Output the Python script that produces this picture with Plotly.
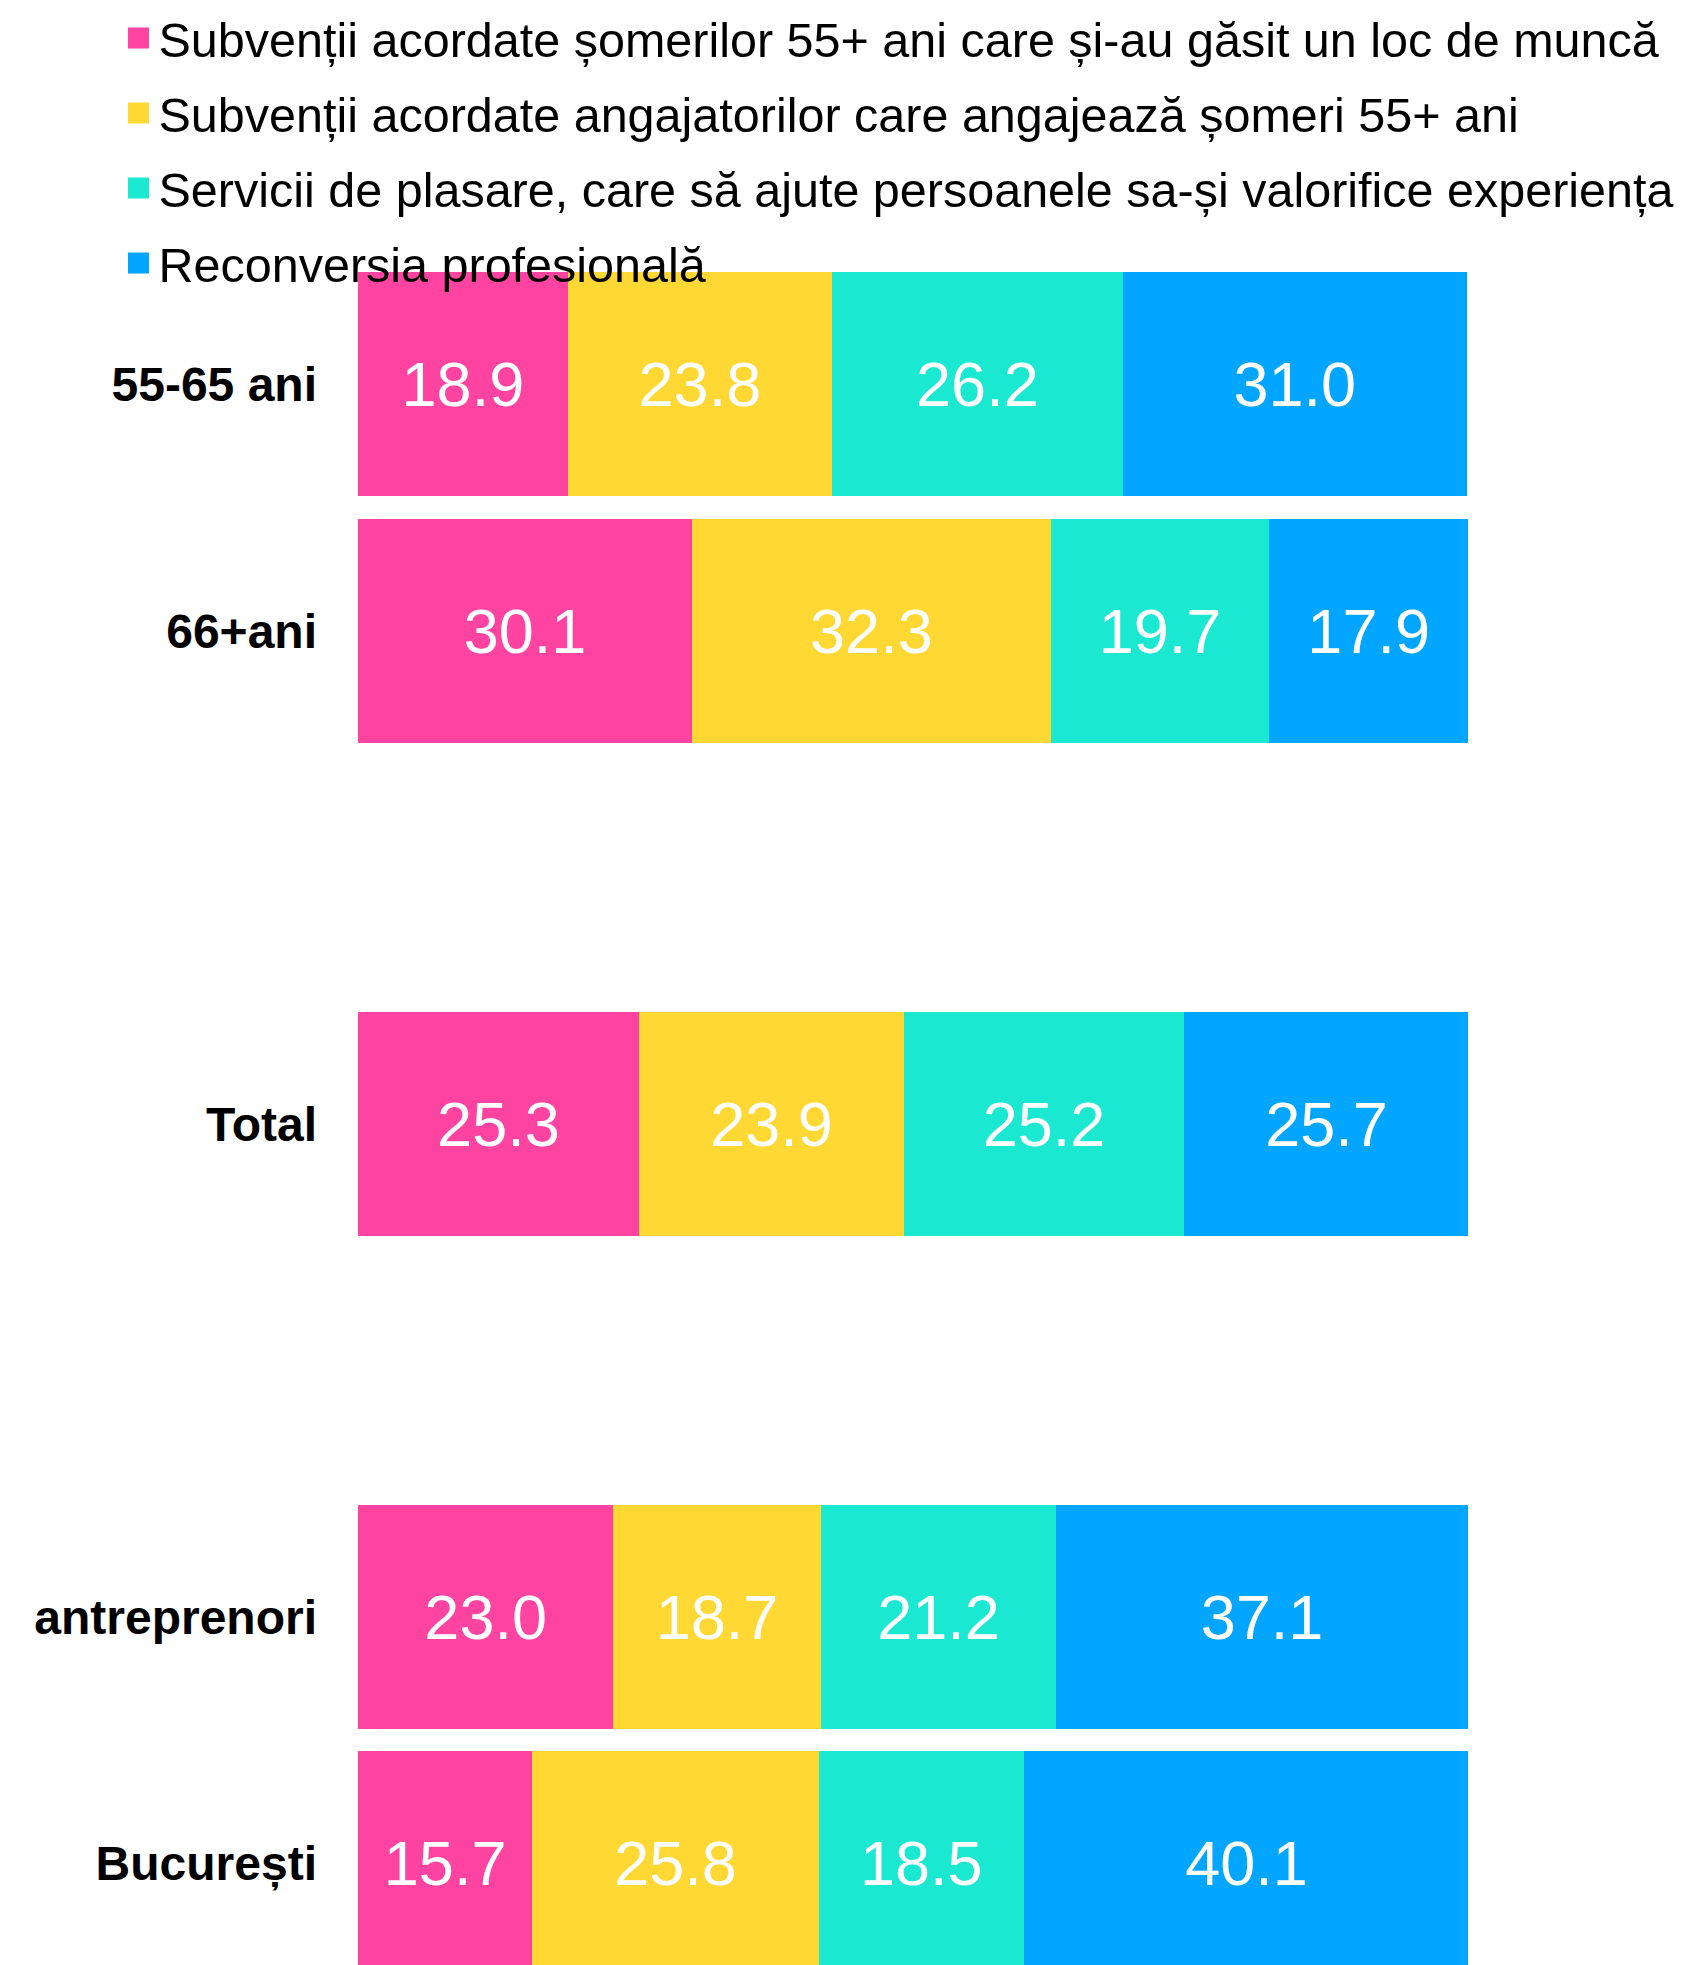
import plotly.graph_objects as go

# Categories, top to bottom (blank rows are spacers)
categories = ["55-65 ani", "66+ani", " ", "Total", "  ", "antreprenori", "București"]

series_names = [
    "Subvenții acordate șomerilor 55+ ani care și-au găsit un loc de muncă",
    "Subvenții acordate angajatorilor care angajează șomeri 55+ ani",
    "Servicii de plasare, care să ajute persoanele sa-și valorifice experiența",
    "Reconversia profesională",
]

subventii_someri = [18.9, 30.1, None, 25.3, None, 23.0, 15.7]
subventii_angajatori = [23.8, 32.3, None, 23.9, None, 18.7, 25.8]
servicii_plasare = [26.2, 19.7, None, 25.2, None, 21.2, 18.5]
reconversie = [31.0, 17.9, None, 25.7, None, 37.1, 40.1]

COLORS = ["#FF43A1", "#FFD833", "#1AE8D1", "#02A5FF"]
FONT = "Liberation Sans, Arial, Helvetica, sans-serif"

fig = go.Figure()

for name, values, color in zip(
    series_names,
    [subventii_someri, subventii_angajatori, servicii_plasare, reconversie],
    COLORS,
):
    # stacked bar segment
    fig.add_trace(go.Bar(
        x=values,
        y=categories,
        orientation="h",
        name=name,
        marker=dict(color=color, line=dict(width=0)),
        texttemplate="%{x:.1f}",
        textposition="inside",
        insidetextanchor="middle",
        textfont=dict(color="white", size=63, family=FONT),
        constraintext="none",
        showlegend=False,
        legendgroup=name,
    ))
    # legend-only marker (bigger square than the bar legend symbol),
    # kept on hidden axes, outside their range, so it never shows in the plot
    fig.add_trace(go.Scatter(
        x=[0],
        y=[0],
        xaxis="x2",
        yaxis="y2",
        mode="markers",
        name=name,
        legendgroup=name,
        hoverinfo="skip",
        marker=dict(symbol="square", size=16, color=color,
                    line=dict(color=color, width=5)),
    ))

fig.update_layout(
    barmode="stack",
    bargap=0.09,
    width=1686,
    height=1965,
    margin=dict(l=350, r=226, t=253, b=0, autoexpand=False),
    plot_bgcolor="white",
    paper_bgcolor="white",
    font=dict(family=FONT, color="black"),
    xaxis=dict(visible=False, type="linear", range=[0, 100]),
    yaxis=dict(
        type="category",
        categoryorder="array",
        categoryarray=categories,
        range=[6.445, -0.5],
        showgrid=False,
        zeroline=False,
        showline=False,
        ticks="",
        tickfont=dict(size=48, weight="bold", color="black", family=FONT),
        ticklabelstandoff=40,
    ),
    xaxis2=dict(visible=False, overlaying="x", range=[1, 2]),
    yaxis2=dict(visible=False, overlaying="y", range=[1, 2]),
    legend=dict(
        x=-0.2158,
        y=1.1525,
        xanchor="left",
        yanchor="top",
        font=dict(size=48.5, family=FONT, color="black"),
        traceorder="grouped",
        tracegroupgap=9,
        itemsizing="trace",
        bgcolor="rgba(0,0,0,0)",
    ),
    showlegend=True,
)

fig.write_html("out.html")
